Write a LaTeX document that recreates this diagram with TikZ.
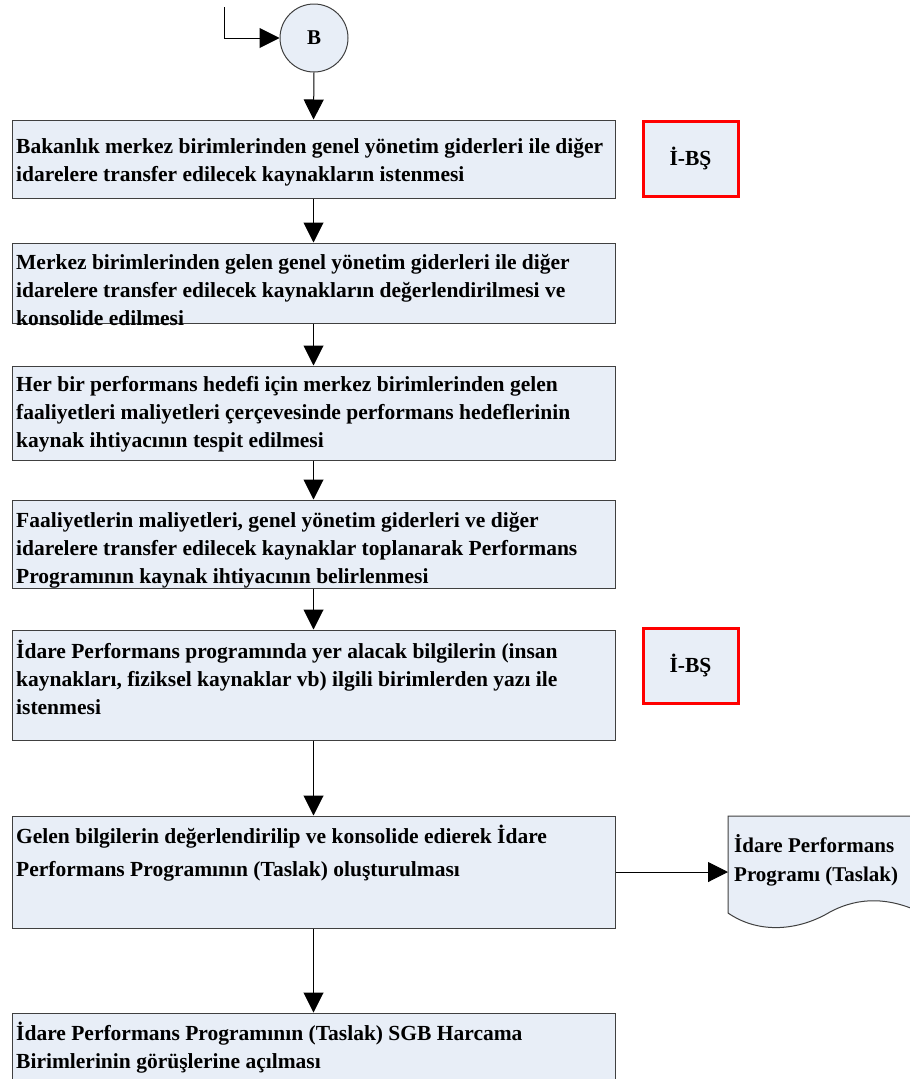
\documentclass[tikz,border=0pt]{standalone}
\usepackage{fontspec}
\setmainfont{Liberation Serif}
\usetikzlibrary{arrows.meta,positioning}

\definecolor{boxfill}{RGB}{232,238,247}
\definecolor{boxline}{RGB}{64,64,64}

\tikzset{
  stepbox/.style={draw=boxline,line width=1pt,fill=boxfill,inner sep=0pt,minimum width=603pt},
  steptext/.style={anchor=north west,align=left,inner sep=0pt,execute at begin node=\strut,font=\bfseries\fontsize{21.5}{28}\selectfont},
  ibsbox/.style={draw=red,line width=3pt,fill=boxfill,inner sep=0pt,minimum width=95pt,minimum height=75pt,font=\bfseries\fontsize{21.5}{22}\selectfont},
  arr/.style={line width=1pt,-{Triangle[length=20pt,width=20pt]}}
}

\begin{document}
\begin{tikzpicture}[x=1pt,y=-1pt]
  \clip (0,0) rectangle (910,1079);
  \fill[white] (0,0) rectangle (910,1079);

  % baslangic
  \node[circle,draw=boxline,line width=1pt,fill=boxfill,minimum size=68pt,inner sep=0pt,font=\bfseries\fontsize{21}{22}\selectfont] (B) at (314,38) {B};
  \coordinate (giris) at (224,7);
  \draw[arr] (giris) |- (B.west);

  % adimlar
  \node[stepbox,minimum height=78pt] (b1) at (313.5,159) {};
  \node[steptext] (t1) at ([xshift=4.5pt,yshift=-18.5pt]b1.north west) {Bakanlık merkez birimlerinden genel yönetim giderleri ile diğer\\\strut idarelere transfer edilecek kaynakların istenmesi};
  \node[ibsbox] (r1) at (690.5,158.5) {İ-BŞ};

  \node[stepbox,minimum height=80pt] (b2) at (313.5,283) {};
  \node[steptext] (t2) at ([xshift=4.5pt,yshift=-11.5pt]b2.north west) {Merkez birimlerinden gelen genel yönetim giderleri ile diğer\\\strut idarelere transfer edilecek kaynakların değerlendirilmesi ve\\\strut konsolide edilmesi};

  \node[stepbox,minimum height=94pt] (b3) at (313.5,413) {};
  \node[steptext] (t3) at ([xshift=4.5pt,yshift=-10.5pt]b3.north west) {Her bir performans hedefi için merkez birimlerinden gelen\\\strut faaliyetleri maliyetleri çerçevesinde performans hedeflerinin\\\strut kaynak ihtiyacının tespit edilmesi};

  \node[stepbox,minimum height=88pt] (b4) at (313.5,544) {};
  \node[steptext] (t4) at ([xshift=4.5pt,yshift=-12.5pt]b4.north west) {Faaliyetlerin maliyetleri, genel yönetim giderleri ve diğer\\\strut idarelere transfer edilecek kaynaklar toplanarak Performans\\\strut Programının kaynak ihtiyacının belirlenmesi};

  \node[stepbox,minimum height=110pt] (b5) at (313.5,685) {};
  \node[steptext] (t5) at ([xshift=4.5pt,yshift=-10.5pt]b5.north west) {İdare Performans programında yer alacak bilgilerin (insan\\\strut kaynakları, fiziksel kaynaklar vb) ilgili birimlerden yazı ile\\\strut istenmesi};
  \node[ibsbox] (r2) at (690.5,665.5) {İ-BŞ};

  \node[stepbox,minimum height=112pt] (b6) at (313.5,872) {};
  \node[steptext,font=\bfseries\fontsize{21.5}{33}\selectfont] (t6) at ([xshift=4.5pt,yshift=-9.5pt]b6.north west) {Gelen bilgilerin değerlendirilip ve konsolide edierek İdare\\\strut Performans Programının (Taslak) oluşturulması};

  \node[stepbox,minimum height=100pt] (b7) at (313.5,1063) {};
  \node[steptext] (t7) at ([xshift=4.5pt,yshift=-9.5pt]b7.north west) {İdare Performans Programının (Taslak) SGB Harcama\\\strut Birimlerinin görüşlerine açılması};

  % taslak belge
  \draw[boxline,line width=1pt,fill=boxfill] (728,816) -- (920,816) -- (920,912)
    .. controls (890,898) and (860,896) .. (830,912)
    .. controls (800,930) and (760,935) .. (728,913) -- cycle;
  \node[steptext,font=\bfseries\fontsize{21}{29}\selectfont] (doc) at (734,834.5) {İdare Performans\\\strut Programı (Taslak)};
  \coordinate (docgiris) at (728,872);

  % oklar
  \draw[arr] (B.south) -- (b1.north);
  \draw[arr] (b1.south) -- (b2.north);
  \draw[arr] (b2.south) -- (b3.north);
  \draw[arr] (b3.south) -- (b4.north);
  \draw[arr] (b4.south) -- (b5.north);
  \draw[arr] (b5.south) -- (b6.north);
  \draw[arr] (b6.south) -- (b7.north);
  \draw[arr] (b6.east) -- (docgiris);
\end{tikzpicture}
\end{document}
